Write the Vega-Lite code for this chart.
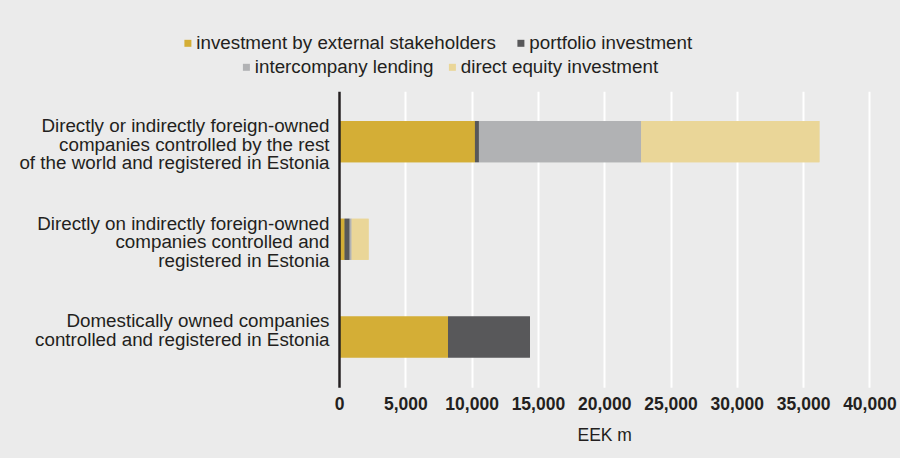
{
  "$schema": "https://vega.github.io/schema/vega-lite/v6.json",
  "width": 530.4,
  "height": 296,
  "autosize": {"type": "none"},
  "padding": {"left": 339, "top": 91.3, "right": 30.6, "bottom": 70.7},
  "background": "#ebebeb",
  "data": {
    "values": [
      {"category": "Directly or indirectly foreign-owned companies controlled by the rest of the world and registered in Estonia", "type": "investment by external stakeholders", "rank": 1, "value": 10250},
      {"category": "Directly or indirectly foreign-owned companies controlled by the rest of the world and registered in Estonia", "type": "portfolio investment", "rank": 2, "value": 300},
      {"category": "Directly or indirectly foreign-owned companies controlled by the rest of the world and registered in Estonia", "type": "intercompany lending", "rank": 3, "value": 12240},
      {"category": "Directly or indirectly foreign-owned companies controlled by the rest of the world and registered in Estonia", "type": "direct equity investment", "rank": 4, "value": 13440},
      {"category": "Directly on indirectly foreign-owned companies controlled and registered in Estonia", "type": "investment by external stakeholders", "rank": 1, "value": 420},
      {"category": "Directly on indirectly foreign-owned companies controlled and registered in Estonia", "type": "portfolio investment", "rank": 2, "value": 380},
      {"category": "Directly on indirectly foreign-owned companies controlled and registered in Estonia", "type": "intercompany lending", "rank": 3, "value": 150},
      {"category": "Directly on indirectly foreign-owned companies controlled and registered in Estonia", "type": "direct equity investment", "rank": 4, "value": 1280},
      {"category": "Domestically owned companies controlled and registered in Estonia", "type": "investment by external stakeholders", "rank": 1, "value": 8220},
      {"category": "Domestically owned companies controlled and registered in Estonia", "type": "portfolio investment", "rank": 2, "value": 6180},
      {"category": "Domestically owned companies controlled and registered in Estonia", "type": "intercompany lending", "rank": 3, "value": 0},
      {"category": "Domestically owned companies controlled and registered in Estonia", "type": "direct equity investment", "rank": 4, "value": 0}
    ]
  },
  "encoding": {
    "y": {
      "field": "category",
      "type": "nominal",
      "sort": null,
      "scale": {"paddingInner": 0.579, "paddingOuter": 0.305},
      "axis": {
        "title": null,
        "domainColor": "#231f20",
        "domainWidth": 2.5,
        "ticks": false,
        "grid": false,
        "labelFontSize": 18.8,
        "labelColor": "#231f20",
        "labelPadding": 10,
        "labelOffset": -15.5,
        "labelLimit": 400,
        "labelLineHeight": 18.4,
        "zindex": 1,
        "labelExpr": "datum.value == 'Domestically owned companies controlled and registered in Estonia' ? ['Domestically owned companies\u00a0', 'controlled and registered in Estonia'] : datum.value == 'Directly on indirectly foreign-owned companies controlled and registered in Estonia' ? ['Directly on indirectly foreign-owned\u00a0', 'companies controlled and\u00a0', 'registered in Estonia'] : ['Directly or indirectly foreign-owned\u00a0', 'companies controlled by the rest\u00a0', 'of the world and registered in Estonia']"
      }
    },
    "x": {
      "field": "value",
      "type": "quantitative",
      "stack": "zero",
      "scale": {"domain": [0, 40000], "nice": false},
      "axis": {
        "title": "EEK m",
        "values": [0, 5000, 10000, 15000, 20000, 25000, 30000, 35000, 40000],
        "format": ",.0f",
        "domain": false,
        "ticks": false,
        "grid": true,
        "gridColor": "#ffffff",
        "gridWidth": 2,
        "labelFlush": false,
        "labelFontSize": 17.5,
        "labelFontWeight": "bold",
        "labelColor": "#231f20",
        "labelPadding": 8,
        "titleFontSize": 17.5,
        "titleFontWeight": "normal",
        "titleColor": "#231f20",
        "titlePadding": 14
      }
    },
    "order": {"field": "rank", "type": "quantitative"}
  },
  "layer": [
    {
      "mark": {"type": "bar", "strokeWidth": 0},
      "encoding": {
        "color": {
          "field": "type",
          "type": "nominal",
          "scale": {
            "domain": ["investment by external stakeholders", "portfolio investment", "intercompany lending", "direct equity investment"],
            "range": ["#d4ae36", "#58585a", "#b1b2b4", "#ead698"]
          },
          "legend": {
            "values": ["investment by external stakeholders", "portfolio investment"],
            "legendX": -160.5,
            "legendY": -57.8,
            "columnPadding": 15
          }
        }
      }
    },
    {
      "mark": {"type": "bar", "strokeWidth": 0},
      "encoding": {
        "color": {
          "field": "type",
          "type": "nominal",
          "scale": {
            "domain": ["investment by external stakeholders", "portfolio investment", "intercompany lending", "direct equity investment"],
            "range": ["#d4ae36", "#58585a", "#b1b2b4", "#ead698"]
          },
          "legend": {
            "values": ["intercompany lending", "direct equity investment"],
            "legendX": -102,
            "legendY": -33.8,
            "columnPadding": 9
          }
        }
      }
    }
  ],
  "resolve": {"scale": {"color": "independent"}},
  "config": {
    "font": "Liberation Sans",
    "view": {"stroke": null},
    "legend": {
      "orient": "none",
      "direction": "horizontal",
      "title": null,
      "symbolType": "square",
      "symbolSize": 49,
      "symbolStrokeWidth": 0,
      "labelFontSize": 18.8,
      "labelColor": "#231f20",
      "labelOffset": -1,
      "padding": 0,
      "labelLimit": 500
    }
  }
}
